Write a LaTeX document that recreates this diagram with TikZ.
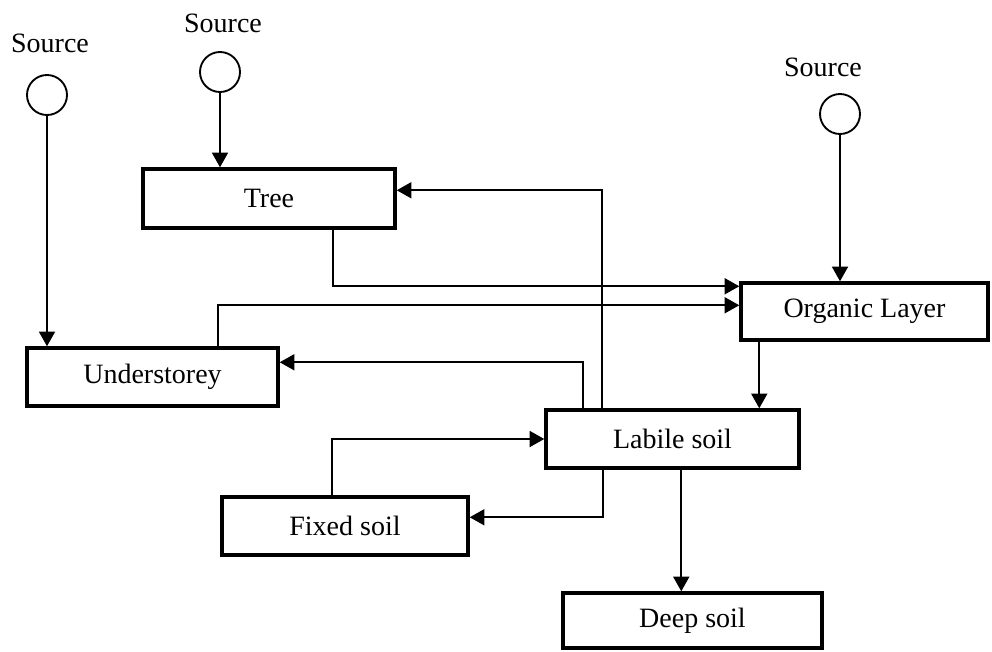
\documentclass[tikz,border=0pt]{standalone}
\usepackage{fontspec}
\setmainfont{Liberation Serif}
\usetikzlibrary{arrows.meta}
\begin{document}
\begin{tikzpicture}[x=0.75pt,y=-0.75pt,
  box/.style={draw, line width=2.6pt, inner sep=0pt, font=\fontsize{21}{25}\selectfont},
  src/.style={draw, circle, line width=1.4pt, minimum size=30pt, inner sep=0pt},
  lbl/.style={font=\fontsize{21}{25}\selectfont, inner sep=0pt},
  flow/.style={line width=1.4pt, -{Triangle[length=11pt,width=12pt]}}]
\useasboundingbox (0,0) rectangle (992,651);

% compartments
\node[box, minimum width=189pt,    minimum height=44.25pt] (tree)    at (269,198.5)   {Tree};
\node[box, minimum width=185.25pt, minimum height=42.75pt] (organic) at (864.5,311.5) {Organic Layer};
\node[box, minimum width=188.25pt, minimum height=43.5pt]  (under)   at (152.5,377)   {Understorey};
\node[box, minimum width=189.75pt, minimum height=43.5pt]  (labile)  at (672.5,439)   {Labile soil};
\node[box, minimum width=184.5pt,  minimum height=43.5pt]  (fixed)   at (345,526)     {Fixed soil};
\node[box, minimum width=194.25pt, minimum height=41.25pt] (deep)    at (692.5,620.5) {Deep soil};

% sources
\node[src] (s1) at (47,95) {};
\node[lbl] (s1lbl) at (50,43) {Source};
\node[src] (s2) at (220,72) {};
\node[lbl] (s2lbl) at (223,23) {Source};
\node[src] (s3) at (840,114) {};
\node[lbl] (s3lbl) at (823,67) {Source};

% inputs from sources
\draw[flow] (s1.south) -- (s1.south |- under.north);
\draw[flow] (s2.south) -- (s2.south |- tree.north);
\draw[flow] (s3.south) -- (s3.south |- organic.north);

% litter to organic layer
\draw[flow] ([xshift=144pt]tree.south west) |- ([yshift=-3.75pt]organic.north west);
\draw[flow] ([xshift=144.75pt]under.north west) |- ([yshift=-18pt]organic.north west);

% organic layer to labile soil
\draw[flow] ([xshift=15pt]organic.south west) coordinate (o1) -- (o1 |- labile.north);

% uptake from labile soil
\draw[flow] ([xshift=43.5pt]labile.north west) |- ([yshift=-17.25pt]tree.north east);
\draw[flow] ([xshift=29.25pt]labile.north west) |- ([yshift=-12pt]under.north east);

% exchange with fixed soil
\draw[flow] ([xshift=84pt]fixed.north west) |- (labile.west);
\draw[flow] ([xshift=44.25pt]labile.south west) |- ([yshift=-16.5pt]fixed.north east);

% leaching to deep soil
\draw[flow] ([xshift=102.75pt]labile.south west) coordinate (l1) -- (l1 |- deep.north);
\end{tikzpicture}
\end{document}
